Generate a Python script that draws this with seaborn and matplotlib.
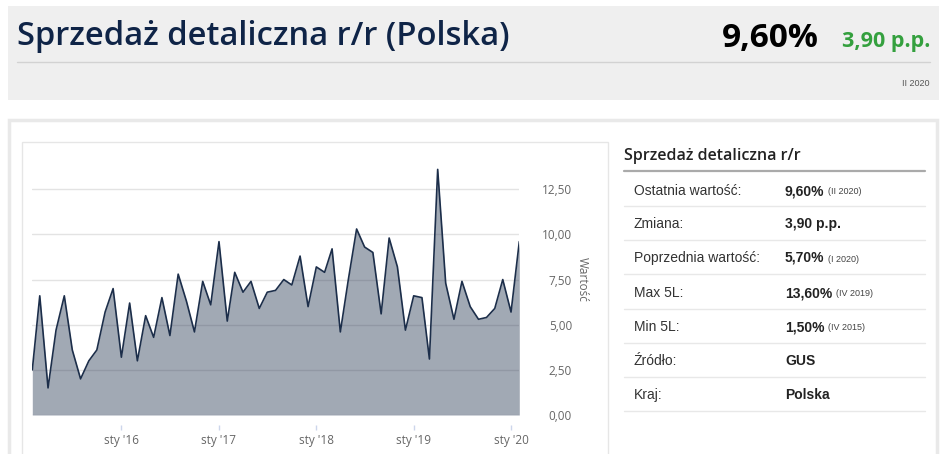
import pandas as pd
import numpy as np
import matplotlib
matplotlib.use("Agg")
import matplotlib.pyplot as plt
import matplotlib.dates as mdates
from matplotlib.patches import Rectangle
from matplotlib.lines import Line2D
import seaborn as sns

# --- dane ---
months = pd.date_range("2015-02-01", "2020-02-01", freq="MS")
values = [
    2.5, 6.6, 1.5, 4.7, 6.6, 3.6, 2.0, 3.0, 3.6, 5.7, 7.0,          # 2015
    3.2, 6.2, 3.0, 5.5, 4.3, 6.5, 4.4, 7.8, 6.3, 4.6, 7.4, 6.1,     # 2016
    9.6, 5.2, 7.9, 6.8, 7.4, 5.9, 6.8, 6.9, 7.5, 7.2, 8.8, 6.0,     # 2017
    8.2, 7.9, 9.2, 4.6, 7.5, 10.3, 9.3, 9.0, 5.6, 9.8, 8.2, 4.7,    # 2018
    6.6, 6.5, 3.1, 13.6, 7.3, 5.3, 7.4, 6.0, 5.3, 5.4, 5.9, 7.5,    # 2019
    5.7, 9.6,                                                        # 2020
]
year_ticks = pd.to_datetime(["2016-01-01", "2017-01-01", "2018-01-01", "2019-01-01", "2020-01-01"])
year_labels = ["sty '16", "sty '17", "sty '18", "sty '19", "sty '20"]
y_ticks = [0, 2.5, 5, 7.5, 10, 12.5]
y_labels = ["0,00", "2,50", "5,00", "7,50", "10,00", "12,50"]

title = "Sprzedaż detaliczna r/r (Polska)"
last_value = "9,60%"
change = "3,90 p.p."
period = "II 2020"

table_title = "Sprzedaż detaliczna r/r"
row_labels = ["Ostatnia wartość:", "Zmiana:", "Poprzednia wartość:", "Max 5L:", "Min 5L:", "Źródło:", "Kraj:"]
row_values = ["9,60%", "3,90 p.p.", "5,70%", "13,60%", "1,50%", "GUS", "Polska"]
row_notes = ["(II 2020)", "", "(I 2020)", "(IV 2019)", "(IV 2015)", "", ""]

df = pd.DataFrame({"data": months, "wartosc": values})

# --- wygląd ---
sns.set_theme(style="white")
plt.rcParams["font.family"] = ["Open Sans", "DejaVu Sans"]

W, H = 945, 454
fig = plt.figure(figsize=(W / 100, H / 100), dpi=100)
fig.patch.set_facecolor("white")


def fx(x):
    return x / W


def fy(y):
    return 1 - y / H


def hline(x0, x1, y, color, lw):
    fig.add_artist(Line2D([fx(x0), fx(x1)], [fy(y), fy(y)], color=color, lw=lw,
                          transform=fig.transFigure))


# nagłówek
fig.add_artist(Rectangle((fx(8), fy(100)), fx(931), 94 / H, transform=fig.transFigure,
                         facecolor="#efefef", edgecolor="none", zorder=0))
fig.text(fx(17), fy(45), title, fontsize=23.6, color="#0f2447", fontweight="semibold",
         ha="left", va="baseline")
fig.text(fx(819), fy(47), last_value, fontsize=24, color="black", fontweight="bold",
         ha="right", va="baseline")
fig.text(fx(930), fy(47), change, fontsize=15.5, color="#34a03e", fontweight="bold",
         ha="right", va="baseline")
hline(17, 930, 62, "#d2d2d2", 1)
fig.text(fx(930), fy(86), period, fontsize=6.5, color="#555555", ha="right", va="baseline",
         family=["Liberation Sans"])

# ramki dolnej części
fig.add_artist(Rectangle((fx(9), fy(470)), fx(928), 350 / H, transform=fig.transFigure,
                         facecolor="none", edgecolor="#e9e9e9", lw=2.5, zorder=0))
fig.add_artist(Rectangle((fx(22), fy(470)), fx(586), 328 / H, transform=fig.transFigure,
                         facecolor="none", edgecolor="#e6e6e6", lw=1, zorder=0))

# --- wykres ---
x_left, x_right = 32.3, 519.3
y_zero, px_per_unit = 415, 18.06
y_top = 160
ax = fig.add_axes([fx(x_left), fy(y_zero), (x_right - x_left) / W, (y_zero - y_top) / H])
ax.set_facecolor("none")

navy = "#1c2e4a"
sns.lineplot(data=df, x="data", y="wartosc", ax=ax, color=navy, lw=1.2, zorder=3)
ax.fill_between(df["data"], df["wartosc"], color=navy, alpha=0.41, lw=0, zorder=2)

ax.set_xlim(months[0], months[-1])
ax.set_ylim(0, (y_zero - y_top) / px_per_unit)

ax.set_yticks(y_ticks)
ax.set_yticklabels(y_labels)
ax.yaxis.tick_right()
ax.grid(axis="y", color="#e3e3e3", lw=1, zorder=1)
ax.set_axisbelow(True)
for lbl in ax.get_yticklabels():
    lbl.set_horizontalalignment("right")
ax.tick_params(axis="y", length=0, pad=(572 - x_right) * 0.72, labelsize=8.5, labelcolor="#666666")

ax.set_xticks(year_ticks)
ax.set_xticklabels(year_labels)
ax.tick_params(axis="x", length=3.6, width=1, color="#ccd6eb", direction="out",
               pad=3, labelsize=8.5, labelcolor="#666666", bottom=True)
for s in ax.spines.values():
    s.set_visible(False)
ax.spines["bottom"].set_position(("outward", 7))

ax.set_xlabel("")
ax.yaxis.set_label_position("right")
ax.set_ylabel("Wartość", rotation=270, fontsize=8.5, color="#666666", va="center")
ax.yaxis.set_label_coords((582 - x_left) / (x_right - x_left), (y_zero - 279) / (y_zero - y_top))

# --- tabela ---
fig.text(fx(624), fy(160), table_title, fontsize=11.5, color="#222222", fontweight="semibold",
         ha="left", va="baseline")
hline(624, 925, 171, "#aaaaaa", 1.6)

row_y = [191, 224, 258, 293, 327, 361, 395]
sep_y = [206, 240, 274, 309, 343, 377, 411]
renderer = fig.canvas.get_renderer()
for lab, val, note, yc in zip(row_labels, row_values, row_notes, row_y):
    fig.text(fx(634), fy(yc), lab, fontsize=10, color="#333333", ha="left", va="center",
             family=["Liberation Sans"])
    t = fig.text(fx(785), fy(yc), val, fontsize=10, color="#222222", fontweight="bold",
                 ha="left", va="center", family=["Liberation Sans"])
    if note:
        bb = t.get_window_extent(renderer=renderer)
        fig.text(fx(bb.x1 + 4), fy(yc + 1), note, fontsize=6.5, color="#444444",
                 ha="left", va="center", family=["Liberation Sans"])
for ys in sep_y:
    hline(624, 925, ys, "#e8e8e8", 1)

fig.savefig("out.png", dpi=100)
